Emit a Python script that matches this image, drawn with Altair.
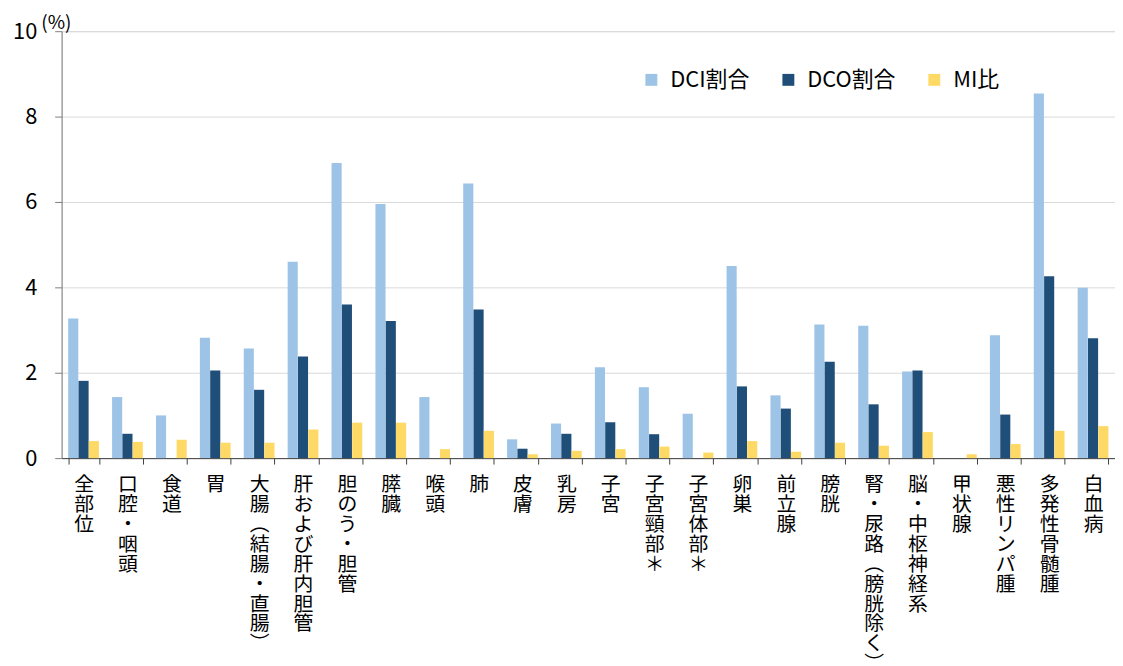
import altair as alt
import pandas as pd

categories = ["全部位", "口腔・咽頭", "食道", "胃", "大腸︵結腸・直腸︶", "肝および肝内胆管",
              "胆のう・胆管", "膵臓", "喉頭", "肺", "皮膚", "乳房", "子宮", "子宮頸部＊",
              "子宮体部＊", "卵巣", "前立腺", "膀胱", "腎・尿路︵膀胱除く︶", "脳・中枢神経系",
              "甲状腺", "悪性リンパ腫", "多発性骨髄腫", "白血病"]
series = ["DCI割合", "DCO割合", "MI比"]
dci = [3.27, 1.43, 1.00, 2.82, 2.57, 4.60, 6.91, 5.95, 1.43, 6.43, 0.44, 0.81,
       2.13, 1.66, 1.04, 4.50, 1.47, 3.13, 3.10, 2.03, 0.00, 2.88, 8.54, 3.99]
dco = [1.81, 0.57, 0.00, 2.05, 1.60, 2.38, 3.60, 3.21, 0.00, 3.48, 0.22, 0.57,
       0.84, 0.56, 0.00, 1.68, 1.16, 2.26, 1.26, 2.05, 0.00, 1.02, 4.26, 2.81]
mi = [0.40, 0.38, 0.43, 0.36, 0.36, 0.67, 0.83, 0.83, 0.21, 0.64, 0.09, 0.17,
      0.21, 0.27, 0.13, 0.40, 0.15, 0.36, 0.29, 0.61, 0.09, 0.33, 0.64, 0.75]
colors = ["#9DC3E6", "#1F4E79", "#FFD966"]
y_ticks = [0, 2, 4, 6, 8, 10]

rows = []
for i, c in enumerate(categories):
    for s, vals in zip(series, [dci, dco, mi]):
        rows.append({"部位": c, "系列": s, "値": vals[i]})
df = pd.DataFrame(rows)

FONT = "Noto Sans CJK JP"

chart = alt.Chart(df).mark_bar().encode(
    x=alt.X("部位:N", sort=categories,
            scale=alt.Scale(paddingInner=0.3, paddingOuter=0.15),
            axis=alt.Axis(title=None, labelAngle=0, labelExpr="split(datum.label, '')",
                          labelLineHeight=20, labelFontSize=20, labelBaseline="top",
                          labelAlign="center", labelOverlap=False, labelLimit=0,
                          tickBand="extent", tickSize=6, tickColor="#404040",
                          domainColor="#404040", labelPadding=11, labelColor="#000000",
                          labelFont=FONT, grid=False)),
    xOffset=alt.XOffset("系列:N", sort=series, scale=alt.Scale(paddingInner=0.02)),
    y=alt.Y("値:Q", scale=alt.Scale(domain=[0, 10], nice=False),
            axis=alt.Axis(values=y_ticks, title="(%)", titleAngle=0, titleAlign="left",
                          titleX=-21, titleY=-3, titleBaseline="alphabetic",
                          titleFontSize=19, titleFontWeight="normal", titleFont=FONT,
                          titleColor="#000000",
                          labelFontSize=22, labelFont=FONT, labelColor="#000000",
                          labelPadding=18, tickSize=7, tickColor="#7f7f7f",
                          domainColor="#7f7f7f", gridColor="#d9d9d9", grid=True)),
    color=alt.Color("系列:N", scale=alt.Scale(domain=series, range=colors),
                    legend=alt.Legend(title=None, orient="none", legendX=583, legendY=38,
                                      direction="horizontal", symbolType="square",
                                      symbolSize=144, symbolStrokeWidth=0,
                                      labelFontSize=22, labelFont=FONT,
                                      labelColor="#000000", labelOffset=8,
                                      columnPadding=28)),
).properties(
    width=1061, height=430,
    padding={"left": 54, "top": 21, "right": 0, "bottom": 205},
    autosize="none",
).configure_view(stroke=None).configure(font=FONT)

chart.save("out.html", embed_options={"renderer": "svg", "actions": False})
